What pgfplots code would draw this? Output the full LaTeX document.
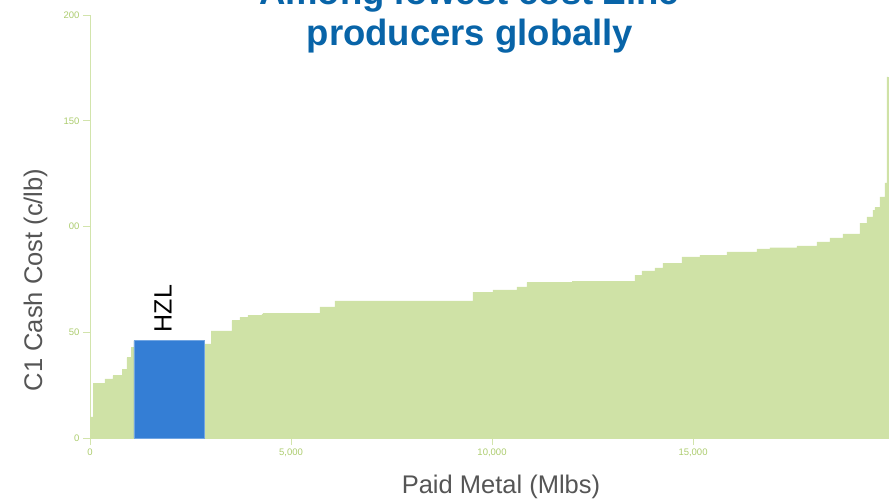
\documentclass[border=0pt]{standalone}
\usepackage{pgfplots}
\pgfplotsset{compat=1.18}
\usepackage{fontspec}
\setmainfont{Liberation Sans}
\definecolor{curvegreen}{RGB}{207,226,166}
\definecolor{axisgreen}{RGB}{210,228,172}
\definecolor{tickgreen}{RGB}{172,204,110}
\definecolor{barblue}{RGB}{52,126,213}
\definecolor{titleblue}{RGB}{8,100,168}
\definecolor{labelgray}{RGB}{85,85,85}
\begin{document}
\begin{tikzpicture}[x=1pt,y=1pt]
\useasboundingbox (0,0) rectangle (889,499);
\begin{axis}[
  at={(90pt,61pt)}, anchor=south west,
  scale only axis, width=798pt, height=423pt,
  xmin=0, xmax=19850, ymin=0, ymax=200,
  axis x line*=bottom, axis y line*=left,
  axis line style={draw=axisgreen, line width=1pt, -},
  tick align=outside,
  major tick length=7pt,
  xtick={0,5000,10000,15000},
  xticklabels={0,{5,000},{10,000},{15,000}},
  ytick={0,50,100,150,200},
  yticklabels={0,50,00,150,200},
  tick style={draw=axisgreen, line width=0.8pt},
  ticklabel style={font=\fontsize{9.5}{10}\selectfont, text=tickgreen},
  /pgf/number format/assume math mode=true,
  scaled x ticks=false,
  clip=false,
]
\addplot[const plot mark left, fill=curvegreen, draw=curvegreen, line width=0.3pt] table {
x y
0 10
75 26
373 28
572 29.5
796 32.6
920 38
1020 43
1094 46
2836 44.5
3010 50.6
3532 55.5
3731 57
3930 58
4278 58.6
4303 59
5720 62
6093 64.8
9526 69
10023 70
10620 71.5
10869 73.6
12000 74.2
13554 77
13729 79
14052 80.4
14251 82.7
14723 85.6
15171 86.5
15842 88
16588 89.4
16912 90
17583 90.8
18081 92.7
18404 94.6
18727 96.5
19150 101.6
19324 104.5
19473 107.8
19523 109
19647 114
19771 120.6
19821 170.7
19850 170.7
} \closedcycle;
\addplot[fill=barblue, draw=barblue!70!white, line width=0.6pt] coordinates {(1094,0) (1094,46) (2836,46) (2836,0)} \closedcycle;
\node[rotate=90, anchor=west, font=\fontsize{25}{26}\selectfont, inner sep=0pt] at (axis cs:1815,50) {HZL};
\end{axis}
\node[anchor=base, font=\fontsize{36.5}{38}\selectfont\bfseries, text=titleblue] at (469,494) {Among lowest cost Zinc};
\node[anchor=base, font=\fontsize{36.5}{38}\selectfont\bfseries, text=titleblue] at (470,453) {producers globally};
\node[anchor=base, font=\fontsize{25.5}{26}\selectfont, text=labelgray] at (501,6) {Paid Metal (Mlbs)};
\node[rotate=90, anchor=base, font=\fontsize{25.5}{26}\selectfont, text=labelgray] at (42,219) {C1 Cash Cost (c/lb)};
\end{tikzpicture}
\end{document}
